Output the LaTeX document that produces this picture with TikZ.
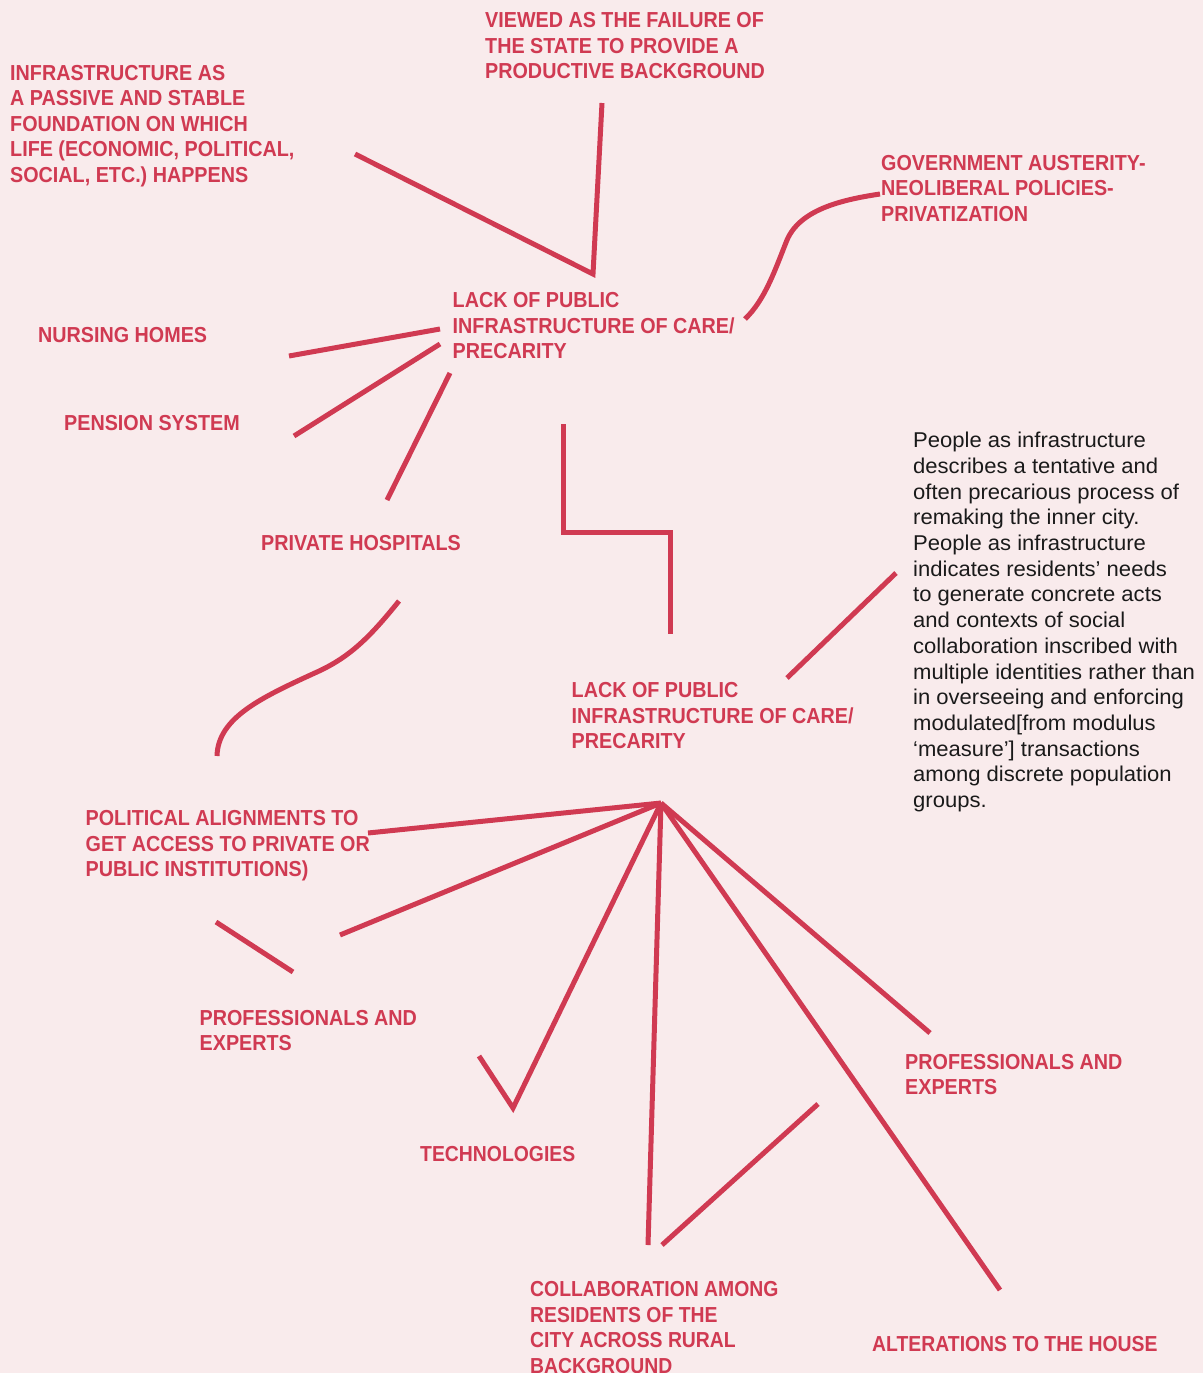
\documentclass[tikz,border=0pt]{standalone}
\usepackage{fontspec}
\newfontfamily\hdfont[FakeStretch=0.91]{Liberation Sans Bold}
\newfontfamily\hdfontc[FakeStretch=0.893]{Liberation Sans Bold}
\newfontfamily\bodyfont[FakeStretch=1.03]{Liberation Sans}
\definecolor{bg}{HTML}{F9EBEC}
\definecolor{rd}{HTML}{D03A52}
\definecolor{tx}{HTML}{1A1A1A}
\tikzset{
  lbl/.style={anchor=north west, inner sep=0pt, align=left, text=rd,
    font=\hdfont\fontsize{21.7}{25.5}\selectfont},
  lblc/.style={lbl, font=\hdfontc\fontsize{21.7}{25.5}\selectfont},
  body/.style={anchor=north west, inner sep=0pt, align=left, text=tx,
    font=\bodyfont\fontsize{21.4}{25.7}\selectfont},
  conn/.style={draw=rd, line width=5pt, miter limit=20}
}
\begin{document}
\begin{tikzpicture}[x=1pt,y=-1pt]
\fill[bg] (0,0) rectangle (1203,1373);
\useasboundingbox (0,0) rectangle (1203,1373);

% labels
\node[lbl] (viewed) at (485,12.5) {VIEWED AS THE FAILURE OF\\THE STATE TO PROVIDE A\\PRODUCTIVE BACKGROUND};
\node[lbl] (infra) at (10,65) {INFRASTRUCTURE AS\\A PASSIVE AND STABLE\\FOUNDATION ON WHICH\\LIFE (ECONOMIC, POLITICAL,\\SOCIAL, ETC.) HAPPENS};
\node[lbl] (gov) at (881,155) {GOVERNMENT AUSTERITY-\\NEOLIBERAL POLICIES-\\PRIVATIZATION};
\node[lbl] (lack1) at (452.5,292.5) {LACK OF PUBLIC\\INFRASTRUCTURE OF CARE/\\PRECARITY};
\node[lbl] (nursing) at (38,327) {NURSING HOMES};
\node[lbl] (pension) at (64,415.5) {PENSION SYSTEM};
\node[lbl] (hosp) at (261,535.5) {PRIVATE HOSPITALS};
\node[lbl] (lack2) at (571.5,682.5) {LACK OF PUBLIC\\INFRASTRUCTURE OF CARE/\\PRECARITY};
\node[body] (people) at (913,432) {People as infrastructure\\describes a tentative and\\often precarious process of\\remaking the inner city.\\People as infrastructure\\indicates residents’ needs\\to generate concrete acts\\and contexts of social\\collaboration inscribed with\\multiple identities rather than\\in overseeing and enforcing\\modulated[from modulus\\‘measure’] transactions\\among discrete population\\groups.};
\node[lbl] (polit) at (85.5,810.5) {POLITICAL ALIGNMENTS TO\\GET ACCESS TO PRIVATE OR\\PUBLIC INSTITUTIONS)};
\node[lbl] (profl) at (199.5,1010) {PROFESSIONALS AND\\EXPERTS};
\node[lbl] (profr) at (905,1054) {PROFESSIONALS AND\\EXPERTS};
\node[lblc] (tech) at (420,1146.5) {TECHNOLOGIES};
\node[lblc] (collab) at (530,1281.5) {COLLABORATION AMONG\\RESIDENTS OF THE\\CITY ACROSS RURAL\\BACKGROUND};
\node[lblc] (alter) at (872,1336) {ALTERATIONS TO THE HOUSE};

% connector end points
\coordinate (aInfra) at (355,154);
\coordinate (apex) at (593,274);
\coordinate (aView) at (602,103);
\coordinate (cStart) at (745,319);
\coordinate (cEnd) at (880,194);
\coordinate (nA) at (289,356);
\coordinate (nB) at (440,329);
\coordinate (pA) at (294,436);
\coordinate (pB) at (440,344);
\coordinate (hA) at (387,500);
\coordinate (hB) at (450,373);
\coordinate (sA) at (563,424);
\coordinate (sB) at (563,532);
\coordinate (sC) at (670,532);
\coordinate (sD) at (670,634);
\coordinate (qA) at (399,601);
\coordinate (qEnd) at (217,756);
\coordinate (dA) at (787,678);
\coordinate (dB) at (896,573);
\coordinate (hub) at (661,803);
\coordinate (ePol) at (368,833);
\coordinate (eProfL) at (340,935);
\coordinate (tA) at (479,1056);
\coordinate (tB) at (513,1108);
\coordinate (eVert) at (648,1245);
\coordinate (eProfR) at (930,1033);
\coordinate (eAlt) at (1000,1290);
\coordinate (lA) at (216,922);
\coordinate (lB) at (293,972);
\coordinate (bA) at (662,1245);
\coordinate (bB) at (818,1104);

% connectors
\draw[conn] (aInfra) -- (apex) -- (aView);
\draw[conn] (cStart) .. controls (765,300) and (775,270) .. (787,240)
  .. controls (800,210) and (840,200) .. (cEnd);
\draw[conn] (nA) -- (nB);
\draw[conn] (pA) -- (pB);
\draw[conn] (hA) -- (hB);
\draw[conn] (sA) -- (sB) -- (sC) -- (sD);
\draw[conn] (qA) .. controls (370,637) and (350,657) .. (317,672)
  .. controls (260,698) and (218,718) .. (qEnd);
\draw[conn] (dA) -- (dB);
\draw[conn] (hub) -- (ePol);
\draw[conn] (hub) -- (eProfL);
\draw[conn] (tA) -- (tB) -- (hub);
\draw[conn] (hub) -- (eVert);
\draw[conn] (hub) -- (eProfR);
\draw[conn] (hub) -- (eAlt);
\draw[conn] (lA) -- (lB);
\draw[conn] (bA) -- (bB);
\end{tikzpicture}
\end{document}
